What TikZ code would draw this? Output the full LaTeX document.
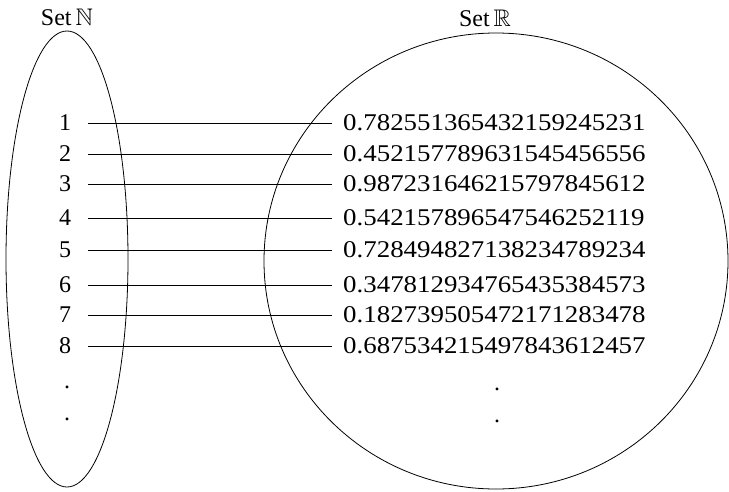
\documentclass[tikz,border=0pt]{standalone}
\usepackage{amssymb}
\usepackage{fontspec}
\setmainfont{Liberation Serif}
\usetikzlibrary{positioning}

\begin{document}
\begin{tikzpicture}[x=1pt, y=-1pt, font=\fontsize{24}{28}\selectfont,
  nat/.style={inner sep=0pt},
  real/.style={anchor=west, inner sep=0pt, xscale=1.12, transform shape},
  link/.style={draw, thick}]
\useasboundingbox (0,0) rectangle (729,491);
\draw[thick] (67,259) ellipse [x radius=61, y radius=228];
\draw[thick] (496,261) ellipse [x radius=232, y radius=228];
\node (setN) at (67,17) {Set\,$\mathbb{N}$};
\node (setR) at (485,18) {Set\,$\mathbb{R}$};
\foreach \i/\y/\r in {1/123/0.782551365432159245231, 2/154/0.452157789631545456556,
  3/184/0.987231646215797845612, 4/218/0.542157896547546252119,
  5/250/0.728494827138234789234, 6/285/0.347812934765435384573,
  7/315/0.182739505472171283478, 8/346/0.687534215497843612457}
{
  \node[nat] (n\i) at (65,\y) {\i};
  \node[real] (r\i) at (343,\y) {\r};
  \draw[link, shorten <=17pt, shorten >=11pt] (n\i.east) -- (r\i.west);
}
\node (ldot1) at (67,387) {.};
\node (ldot2) at (67,419) {.};
\node (rdot1) at (497,389) {.};
\node (rdot2) at (497,421) {.};
\end{tikzpicture}
\end{document}
